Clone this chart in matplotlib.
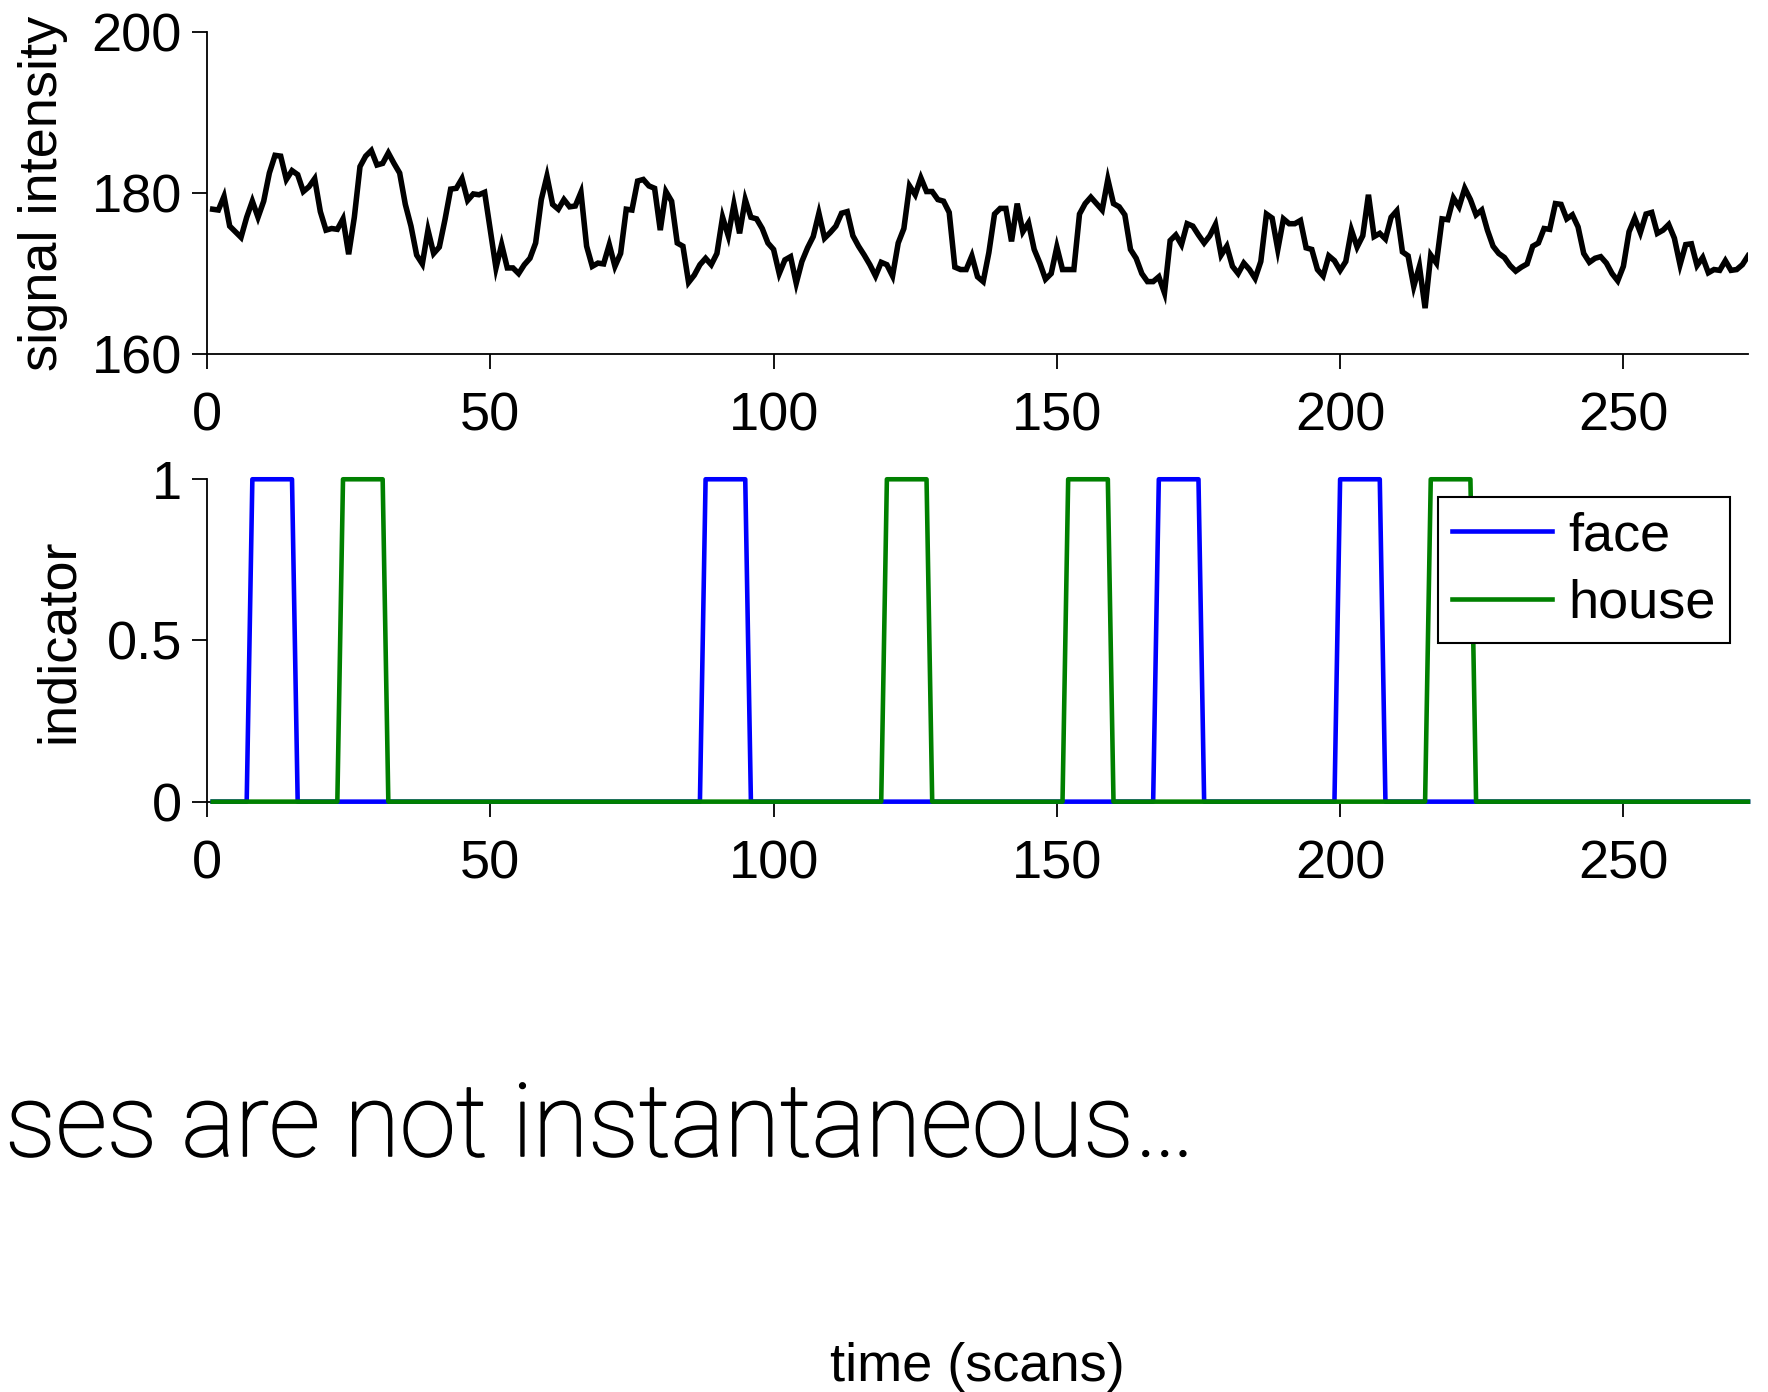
import numpy as np
import matplotlib
matplotlib.use("Agg")
import matplotlib.pyplot as plt
import matplotlib.patheffects as pe

plt.rcParams['font.family'] = ['Liberation Sans', 'DejaVu Sans']

# tín hiệu theo từng scan
signal = [
    178.0, 177.9, 179.6, 175.9, 175.2, 174.5, 177.0, 179.0, 177.0, 179.0,
    182.5, 184.7, 184.6, 181.7, 182.8, 182.3, 180.2, 180.8, 181.8, 177.7,
    175.4, 175.6, 175.5, 176.8, 172.4, 177.0, 183.3, 184.6, 185.3, 183.5,
    183.7, 185.0, 183.7, 182.5, 178.6, 175.9, 172.3, 171.2, 175.4, 172.5,
    173.3, 176.7, 180.5, 180.6, 181.8, 179.1, 179.9, 179.8, 180.1, 175.4,
    170.7, 173.6, 170.7, 170.7, 170.0, 171.1, 171.9, 173.8, 179.2, 182.1,
    178.6, 178.0, 179.2, 178.3, 178.4, 180.1, 173.4, 170.9, 171.3, 171.2,
    173.6, 170.9, 172.5, 178.0, 177.9, 181.5, 181.7, 180.9, 180.6, 175.4,
    180.2, 179.0, 173.8, 173.4, 168.9, 169.8, 171.1, 171.9, 171.1, 172.5,
    177.0, 174.7, 178.6, 175.0, 179.2, 177.0, 176.8, 175.6, 173.8, 173.0,
    170.0, 171.7, 172.1, 168.8, 171.5, 173.2, 174.6, 177.5, 174.4, 175.1,
    175.9, 177.5, 177.7, 174.7, 173.4, 172.3, 171.1, 169.7, 171.4, 171.1,
    169.7, 173.8, 175.6, 180.9, 179.8, 181.9, 180.2, 180.2, 179.2, 179.0,
    177.6, 170.8, 170.5, 170.5, 172.2, 169.6, 169.0, 172.6, 177.4, 178.1,
    178.1, 174.0, 178.7, 175.2, 176.3, 173.0, 171.3, 169.3, 170.0, 173.3,
    170.5, 170.5, 170.5, 177.4, 178.7, 179.5, 178.7, 177.9, 181.7, 178.7,
    178.3, 177.3, 173.0, 171.9, 170.0, 169.0, 169.0, 169.6, 167.6, 174.1,
    174.8, 173.6, 176.2, 175.9, 174.8, 173.8, 174.7, 176.1, 172.3, 173.4,
    170.9, 170.0, 171.3, 170.5, 169.4, 171.5, 177.4, 176.9, 173.0, 176.8,
    176.2, 176.2, 176.6, 173.2, 173.0, 170.5, 169.7, 172.2, 171.6, 170.4,
    171.5, 175.4, 173.3, 174.7, 179.8, 174.6, 175.0, 174.3, 177.0, 177.8,
    172.7, 172.2, 168.4, 170.9, 165.7, 172.3, 171.3, 176.8, 176.7, 179.4,
    178.3, 180.6, 179.2, 177.3, 177.9, 175.4, 173.4, 172.5, 172.0, 171.0,
    170.3, 170.8, 171.2, 173.4, 173.8, 175.6, 175.5, 178.7, 178.6, 176.8,
    177.3, 175.8, 172.5, 171.4, 171.9, 172.1, 171.3, 170.0, 169.1, 170.9,
    175.2, 176.9, 175.1, 177.4, 177.6, 175.0, 175.4, 176.1, 174.4, 171.1,
    173.6, 173.7, 171.0, 172.0, 170.1, 170.5, 170.4, 171.6, 170.4, 170.5,
    171.1, 172.2,
]
scans = np.arange(1, len(signal) + 1)

# các khối kích thích (scan bắt đầu), mỗi khối 8 scan
face_onsets = [8, 88, 168, 200]
house_onsets = [24, 120, 152, 216]
block_len = 8

face = np.zeros(len(scans))
house = np.zeros(len(scans))
for s in face_onsets:
    face[(scans >= s) & (scans < s + block_len)] = 1
for s in house_onsets:
    house[(scans >= s) & (scans < s + block_len)] = 1

fs = 39
fig = plt.figure(figsize=(17.68, 13.92), dpi=100)
ax1 = fig.add_axes([0.1171, 0.7457, 0.8716, 0.2311])
ax2 = fig.add_axes([0.1171, 0.4241, 0.8716, 0.2316])


def style(ax):
    for side in ['top', 'right']:
        ax.spines[side].set_visible(False)
    for side in ['left', 'bottom']:
        ax.spines[side].set_linewidth(1.3)
    ax.tick_params(direction='out', length=11, width=1.3, labelsize=fs)
    ax.tick_params(axis='x', pad=16)
    ax.tick_params(axis='y', pad=7)
    ax.set_xlim(0, 272)
    ax.set_xticks([0, 50, 100, 150, 200, 250])


ax1.plot(scans, signal, color='black', lw=4, solid_joinstyle='miter', zorder=3)
style(ax1)
ax1.set_ylim(160, 200)
ax1.set_yticks([160, 180, 200])
ax1.set_ylabel('signal intensity', fontsize=fs)
ax1.yaxis.set_label_coords(-0.090, 0.5)

ax2.plot(scans, face, color='blue', lw=3.3, label='face', clip_on=False, zorder=3)
ax2.plot(scans, house, color='green', lw=3.3, label='house', clip_on=False, zorder=3)
style(ax2)
ax2.set_ylim(0, 1)
ax2.set_yticks([0, 0.5, 1])
ax2.set_yticklabels(['0', '0.5', '1'])
ax2.set_ylabel('indicator', fontsize=fs)
ax2.yaxis.set_label_coords(-0.080, 0.5)
leg = ax2.legend(loc='upper right', fontsize=fs, fancybox=False, framealpha=1,
                 edgecolor='black', handlelength=1.85, handletextpad=0.3,
                 labelspacing=0.32, borderaxespad=0.33, borderpad=0.26)
leg.get_frame().set_linewidth(1.5)
leg.set_zorder(5)

fig.text(0.003, 1 - 1156 / 1392, 'ses are not instantaneous…', fontsize=73,
         family=['Roboto', 'DejaVu Sans'], fontweight='light', ha='left', va='baseline',
         path_effects=[pe.withStroke(linewidth=1.2, foreground='black')])
fig.text(977 / 1768, 1 - 1381 / 1392, 'time (scans)', fontsize=fs, ha='center', va='baseline')

fig.savefig('out.png', dpi=100)
